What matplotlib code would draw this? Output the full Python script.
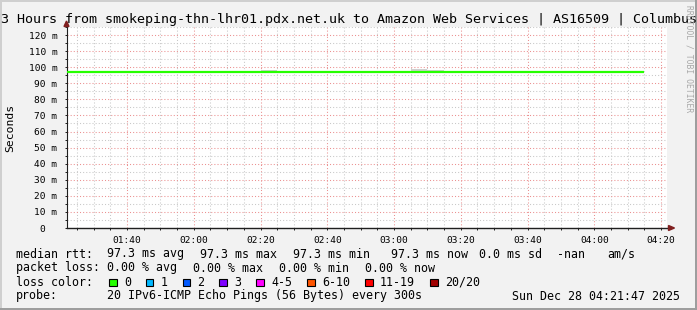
import matplotlib
matplotlib.use("Agg")
import matplotlib.pyplot as plt
import matplotlib.dates as mdates
from matplotlib.patches import Rectangle, Polygon
from matplotlib.ticker import MultipleLocator, FixedLocator
from datetime import datetime, timedelta

# ---------------- data ----------------
title = "3 Hours from smokeping-thn-lhr01.pdx.net.uk to Amazon Web Services | AS16509 | Columbus"
y_label = "Seconds"
watermark = "RRDTOOL / TOBI OETIKER"

end_time = "2025-12-28 04:21:52"
window_hours = 3

bin_starts = ["01:20", "01:25", "01:30", "01:35", "01:40", "01:45", "01:50", "01:55",
              "02:00", "02:05", "02:10", "02:15", "02:20", "02:25", "02:30", "02:35",
              "02:40", "02:45", "02:50", "02:55", "03:00", "03:05", "03:10", "03:15",
              "03:20", "03:25", "03:30", "03:35", "03:40", "03:45", "03:50", "03:55",
              "04:00", "04:05", "04:10"]
median_ms = [97.3, 97.3, 97.3, 97.3, 97.3, 97.3, 97.3, 97.3,
             97.3, 97.3, 97.3, 97.3, 97.3, 97.3, 97.3, 97.3,
             97.3, 97.3, 97.3, 97.3, 97.3, 97.3, 97.3, 97.3,
             97.3, 97.3, 97.3, 97.3, 97.3, 97.3, 97.3, 97.3,
             97.3, 97.3, 97.3]
smoke_hi_ms = [97.3, 97.3, 97.3, 97.3, 97.3, 97.3, 97.3, 97.3,
               97.3, 97.3, 97.3, 97.3, 98.3, 97.3, 97.3, 97.3,
               97.3, 97.3, 97.3, 97.3, 97.3, 98.9, 98.3, 97.3,
               97.3, 97.3, 97.3, 97.3, 97.3, 97.3, 97.3, 97.3,
               97.3, 97.3, 97.3]

y_ticks = [0, 10, 20, 30, 40, 50, 60, 70, 80, 90, 100, 110, 120]
y_max = 125

rtt_stats = [("avg", 97.3), ("max", 97.3), ("min", 97.3), ("now", 97.3)]
rtt_sd = 0.0
loss_stats = [("avg", 0.00), ("max", 0.00), ("min", 0.00), ("now", 0.00)]
loss_labels = ["0", "1", "2", "3", "4-5", "6-10", "11-19", "20/20"]
loss_colors = ["#26ff00", "#00b8ff", "#0059ff", "#7e00ff", "#ff00ff", "#ff5500", "#ff0000", "#a10000"]
probe_text = "20 IPv6-ICMP Echo Pings (56 Bytes) every 300s"
stamp = "Sun Dec 28 04:21:47 2025"

# ---------------- layout ----------------
W, H, DPI = 697, 310, 100
MONO = "DejaVu Sans Mono"
BG = "#f2f2f2"

fig = plt.figure(figsize=(W / DPI, H / DPI), dpi=DPI, facecolor=BG)

def fx(x):
    return x / W

def fy(y):
    return 1 - y / H

px_left, px_right, px_top, px_bot = 66.5, 667.3, 27.0, 228.0
ax = fig.add_axes([fx(px_left), fy(px_bot), fx(px_right) - fx(px_left), fy(px_top) - fy(px_bot)])
ax.set_facecolor("white")

t1 = datetime.strptime(end_time, "%Y-%m-%d %H:%M:%S")
t0 = t1 - timedelta(hours=window_hours)
day = t1.date()

def tparse(s):
    h, m = s.split(":")
    return datetime(day.year, day.month, day.day, int(h), int(m))

starts = [tparse(s) for s in bin_starts]
edges = starts + [starts[-1] + timedelta(minutes=5)]

# smoke
ax.stairs(smoke_hi_ms, edges, baseline=median_ms, fill=True, color="#cfcfcf", lw=0, zorder=2)
# median line
ax.stairs(median_ms, edges, baseline=None, color="#26ff00", lw=1.6, zorder=3)

ax.set_xlim(t0, t1)
ax.set_ylim(0, y_max)

# grids
ax.yaxis.set_major_locator(FixedLocator(y_ticks))
ax.yaxis.set_minor_locator(MultipleLocator(5))
ax.xaxis.set_major_locator(mdates.MinuteLocator(byminute=[0, 20, 40]))
ax.xaxis.set_minor_locator(mdates.MinuteLocator(byminute=range(0, 60, 5)))
ax.xaxis.set_major_formatter(mdates.DateFormatter("%H:%M"))
ax.set_yticklabels([f"{v} m" if v else "0  " for v in y_ticks])

ax.grid(which="minor", color="#c8c8c8", linestyle=(0, (1, 2)), lw=0.75, zorder=0)
ax.grid(which="major", color="#eb9090", linestyle=(0, (1, 2)), lw=0.75, zorder=0)
ax.set_axisbelow(True)

for s in ["top", "right"]:
    ax.spines[s].set_visible(False)
ax.spines["left"].set_color("#1f1f1f")
ax.spines["bottom"].set_color("#1f1f1f")
ax.spines["left"].set_linewidth(0.8)
ax.spines["bottom"].set_linewidth(1.0)

ax.tick_params(which="both", direction="out", length=1.5, width=0.7, color="#1f1f1f",
               labelsize=6.8, pad=5)
ax.tick_params(axis="x", pad=4.5)
for lab in ax.get_xticklabels() + ax.get_yticklabels():
    lab.set_fontfamily(MONO)

# arrows
arrow_col = "#801f1f"
fig.patches.append(Polygon([(fx(64.0), fy(26.5)), (fx(69.0), fy(26.5)), (fx(66.5), fy(21.0))],
                           closed=True, transform=fig.transFigure, color=arrow_col))
fig.patches.append(Polygon([(fx(668.5), fy(225.5)), (fx(668.5), fy(230.5)), (fx(674.5), fy(228.0))],
                           closed=True, transform=fig.transFigure, color=arrow_col))

# borders
fig.patches.append(Rectangle((0, 0), fx(2), 1, transform=fig.transFigure, color="#cfcfcf", lw=0))
fig.patches.append(Rectangle((0, fy(2)), 1, 2 / H, transform=fig.transFigure, color="#cfcfcf", lw=0))
fig.patches.append(Rectangle((fx(W - 2.5), 0), 2.5 / W, 1, transform=fig.transFigure, color="#9e9e9e", lw=0))
fig.patches.append(Rectangle((0, 0), 1, 2.5 / H, transform=fig.transFigure, color="#9e9e9e", lw=0))

# texts
fig.text(fx(1), fy(23.5), title, family=MONO, fontsize=9.6, va="baseline", ha="left")
fig.text(fx(10), fy(127.5), y_label, family=MONO, fontsize=8.2, rotation=90, va="center", ha="center")
fig.text(fx(688.5), fy(5), watermark, family=MONO, fontsize=5.8, rotation=270,
         va="top", ha="center", color="#a8a8a8")

LF = 8.4
rows_y = [257.5, 271.5, 285.5, 299.5]

def t(x, y, s, **kw):
    fig.text(fx(x), fy(y), s, family=MONO, fontsize=LF, va="baseline", ha="left", **kw)

t(16, rows_y[0], "median rtt:")
for x, (name, v) in zip([107, 200, 293, 391], rtt_stats):
    t(x, rows_y[0], f"{v:.1f} ms {name}")
t(479, rows_y[0], f"{rtt_sd:.1f} ms sd")
t(557, rows_y[0], "-nan")
t(607, rows_y[0], "am/s")

t(16, rows_y[1], "packet loss:")
for x, (name, v) in zip([107, 193, 279, 365], loss_stats):
    t(x, rows_y[1], f"{v:.2f} % {name}")

t(16, rows_y[2], "loss color:")
bx = 109.0
for lab, col in zip(loss_labels, loss_colors):
    fig.patches.append(Rectangle((fx(bx), fy(286)), 7.5 / W, 7.5 / H, transform=fig.transFigure,
                                 facecolor=col, edgecolor="black", lw=0.8))
    t(bx + 15, rows_y[2], lab)
    bx += (len(lab) + 4) * 7.06 + 1.5

t(16, rows_y[3], "probe:")
t(107, rows_y[3], probe_text)
fig.text(fx(680), fy(rows_y[3]), stamp, family=MONO, fontsize=LF, va="baseline", ha="right")

fig.savefig("out.png", dpi=DPI, facecolor=BG)
